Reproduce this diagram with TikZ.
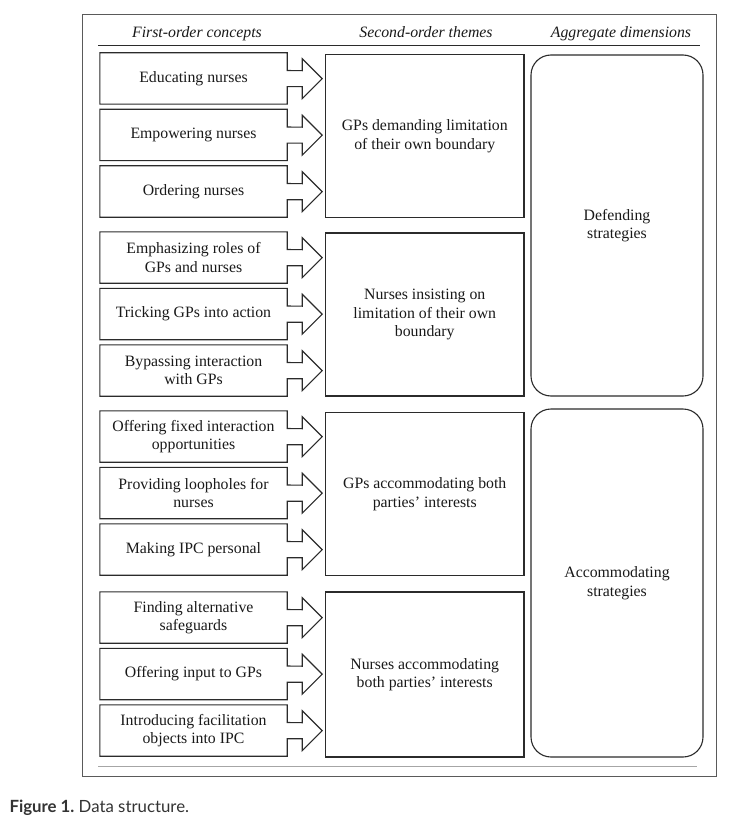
\documentclass[tikz,border=0pt]{standalone}
\usepackage{fontspec}
\setmainfont{Liberation Serif}
\newfontfamily\capfont{Lato}
\usepackage{tikz}

\definecolor{linec}{HTML}{2B2B2B}
\definecolor{framec}{HTML}{5A5A5A}

\tikzset{
	concept/.style={minimum width=187pt, minimum height=51pt, inner sep=0pt, align=center},
	theme/.style={draw=linec, line width=1.1pt, minimum width=198.5pt, minimum height=163pt, inner sep=0pt, align=center},
	dimension/.style={draw=linec, line width=1.1pt, rounded corners=20pt, minimum width=172pt, inner sep=0pt, align=center},
	heading/.style={anchor=base, font=\fontsize{15.8}{18.5}\selectfont\itshape},
	outline/.style={draw=linec, line width=1.1pt},
}

\begin{document}
\begin{tikzpicture}[x=1pt, y=-1pt, font=\fontsize{15.8}{18.5}\selectfont, text=black!90]
		\useasboundingbox (0,0) rectangle (731,821);
		\draw [framec, line width=0.9pt] (82,14) rectangle (716,776);
		\draw [linec, line width=1pt] (98,46) -- (700,46);
		\draw [gray!70, line width=1pt] (98,766) -- (697,766);

		% headings
		\node [heading] (h1) at (197,38) {First-order concepts};
		\node [heading] (h2) at (426,38) {Second-order themes};
		\node [heading] (h3) at (621,38) {Aggregate dimensions};

		% first-order concepts
		\node [concept] (edu) at (193.5,78.5) {Educating nurses};
		\node [concept] (emp) at (193.5,135) {Empowering nurses};
		\node [concept] (ord) at (193.5,191.5) {Ordering nurses};
		\node [concept] (emph) at (193.5,257.5) {Emphasizing roles of\\GPs and nurses};
		\node [concept] (trick) at (193.5,314) {Tricking GPs into action};
		\node [concept] (bypass) at (193.5,370.5) {Bypassing interaction\\with GPs};
		\node [concept] (fixed) at (193.5,436.5) {Offering fixed interaction\\opportunities};
		\node [concept] (loop) at (193.5,493) {Providing loopholes for\\nurses};
		\node [concept] (pers) at (193.5,549.5) {Making IPC personal};
		\node [concept] (alt) at (193.5,617.5) {Finding alternative\\safeguards};
		\node [concept] (input) at (193.5,674) {Offering input to GPs};
		\node [concept] (obj) at (193.5,730.5) {Introducing facilitation\\objects into IPC};

		\foreach \n in {edu,emp,ord,emph,trick,bypass,fixed,loop,pers,alt,input,obj}
			\draw [outline] (\n.east) ++(0,-8) |- (\n.north west) |- (\n.south east)
				-- ++(0,-17.5) -- ++(15,0) -- ++(0,12) -- ++(20,-20) -- ++(-20,-20) -- ++(0,12) -- cycle;

		% second-order themes
		\node [theme] (gpdemand) at (424.75,136) {GPs demanding limitation\\of their own boundary};
		\node [theme] (nurseinsist) at (424.75,314.5) {Nurses insisting on\\limitation of their own\\boundary};
		\node [theme] (gpaccom) at (424.75,494) {GPs accommodating both\\parties’ interests};
		\node [theme, minimum height=165pt] (nurseaccom) at (424.75,674.5) {Nurses accommodating\\both parties’ interests};

		% aggregate dimensions
		\node [dimension, minimum height=341pt] (defend) at (617,225.5) {Defending\\strategies};
		\node [dimension, minimum height=348pt] (accom) at (617,583) {Accommodating\\strategies};

		\node [anchor=west, font=\capfont\fontsize{16.8}{19}\selectfont, text=black!80] (cap) at (6,808) {\textbf{Figure 1.}\ Data structure.};
	\end{tikzpicture}
\end{document}
